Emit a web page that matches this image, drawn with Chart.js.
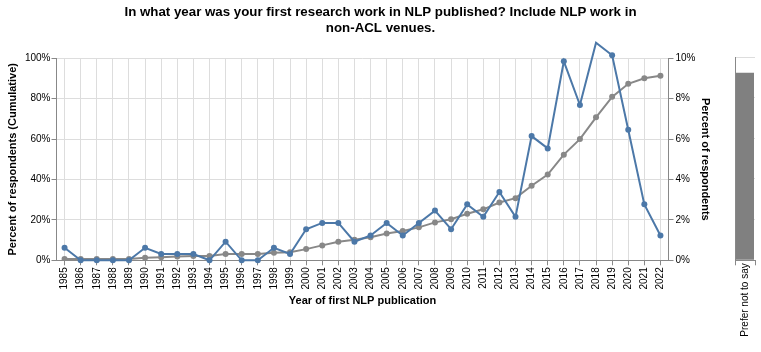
<!DOCTYPE html>
<html>
<head>
<meta charset="utf-8">
<script src="https://cdn.jsdelivr.net/npm/chart.js@4"></script>
<style>
  html, body { margin: 0; padding: 0; background: #fff; }
  #wrap { position: relative; width: 761px; height: 352px; }
  #main { position: absolute; left: 0; top: 0; }
  #side { position: absolute; left: 715px; top: 0; }
</style>
</head>
<body>
<div id="wrap">
  <canvas id="main" width="761" height="352"></canvas>
  <canvas id="side" width="46" height="352"></canvas>
</div>
<script>
// ===== dados =====
const anos = [
  '1985', '1986', '1987', '1988', '1989', '1990', '1991', '1992', '1993', '1994',
  '1995', '1996', '1997', '1998', '1999', '2000', '2001', '2002', '2003', '2004',
  '2005', '2006', '2007', '2008', '2009', '2010', '2011', '2012', '2013', '2014',
  '2015', '2016', '2017', '2018', '2019', '2020', '2021', '2022'
];

// % de respondentes por ano (eixo direito)
const percentual = [
  0.62, 0, 0, 0, 0, 0.62, 0.31, 0.31, 0.31, 0,
  0.92, 0, 0, 0.62, 0.31, 1.54, 1.85, 1.85, 0.92, 1.23,
  1.85, 1.23, 1.85, 2.46, 1.54, 2.77, 2.15, 3.38, 2.15, 6.15,
  5.54, 9.85, 7.69, 10.77, 10.15, 6.46, 2.77, 1.23
];

// % acumulado (eixo esquerdo)
const acumulado = [
  0.62, 0.62, 0.62, 0.62, 0.62, 1.23, 1.54, 1.85, 2.15, 2.15,
  3.08, 3.08, 3.08, 3.69, 4.0, 5.54, 7.38, 9.23, 10.15, 11.38,
  13.23, 14.46, 16.31, 18.77, 20.31, 23.08, 25.23, 28.62, 30.77, 36.92,
  42.46, 52.31, 60.0, 70.77, 80.92, 87.38, 90.15, 91.38
];

const semResposta = ['Prefer not to say'];
const semRespostaValor = [9.23];

const ticksEsquerda = [0, 20, 40, 60, 80, 100];
const ticksDireita = [0, 2, 4, 6, 8, 10];

// ===== estilos =====
const azul = '#4c78a8';
const cinza = '#888888';
const grade = '#dddddd';
const eixo = '#888888';
const fonte = "'Liberation Sans', Arial, sans-serif";

Chart.defaults.font.family = fonte;
Chart.defaults.color = '#000';

// ===== gráfico principal =====
new Chart(document.getElementById('main'), {
  type: 'line',
  data: {
    labels: anos,
    datasets: [
      {
        data: acumulado,
        yAxisID: 'y',
        borderColor: cinza,
        backgroundColor: cinza,
        borderWidth: 2,
        pointRadius: 3,
        pointBorderWidth: 0,
        tension: 0,
        order: 2
      },
      {
        data: percentual,
        yAxisID: 'y1',
        borderColor: azul,
        backgroundColor: azul,
        borderWidth: 2,
        pointRadius: 3,
        pointBorderWidth: 0,
        tension: 0,
        clip: false,
        order: 1
      }
    ]
  },
  options: {
    responsive: false,
    animation: false,
    layout: { padding: 0 },
    plugins: {
      legend: { display: false },
      tooltip: { enabled: false },
      title: {
        display: true,
        text: ['In what year was your first research work in NLP published? Include NLP work in', 'non-ACL venues.'],
        font: { size: 13.3, weight: 'bold' },
        color: '#000',
        lineHeight: 1.15,
        padding: { top: 4, bottom: 22.4 }
      }
    },
    scales: {
      x: {
        offset: true,
        afterFit: axis => { axis.height = 91.7; },
        grid: { color: grade, offset: false, tickLength: 5, tickColor: eixo },
        border: { color: eixo },
        ticks: { color: '#000', font: { size: 10 }, minRotation: 90, maxRotation: 90, autoSkip: false, padding: 2 },
        title: { display: true, text: 'Year of first NLP publication', font: { size: 11, weight: 'bold' }, padding: { top: 0, bottom: 44 } }
      },
      y: {
        position: 'left',
        min: 0,
        max: 100,
        afterFit: axis => { axis.width = 56.5; },
        afterBuildTicks: axis => { axis.ticks = ticksEsquerda.map(v => ({ value: v })); },
        grid: { color: grade, tickLength: 5, tickColor: eixo },
        border: { color: eixo },
        ticks: { color: '#000', font: { size: 10 }, padding: 1, callback: v => v + '%' },
        title: { display: true, text: 'Percent of respondents (Cumulative)', font: { size: 11, weight: 'bold' }, padding: { top: 6, bottom: 0 } }
      },
      y1: {
        position: 'right',
        min: 0,
        max: 10,
        afterFit: axis => { axis.width = 92.5; },
        afterBuildTicks: axis => { axis.ticks = ticksDireita.map(v => ({ value: v })); },
        grid: { drawOnChartArea: false, tickLength: 5, tickColor: eixo },
        border: { color: eixo },
        ticks: { color: '#000', font: { size: 10 }, padding: 2, callback: v => v + '%' },
        title: { display: true, text: 'Percent of respondents', font: { size: 11, weight: 'bold' }, padding: { top: 49, bottom: 0 } }
      }
    }
  }
});

// ===== painel "Prefer not to say" =====
new Chart(document.getElementById('side'), {
  type: 'bar',
  data: {
    labels: semResposta,
    datasets: [{
      data: semRespostaValor,
      backgroundColor: '#808080',
      barPercentage: 0.9,
      categoryPercentage: 1
    }]
  },
  options: {
    responsive: false,
    animation: false,
    layout: { padding: { top: 57, left: 0, right: 6, bottom: 0 } },
    plugins: { legend: { display: false }, tooltip: { enabled: false } },
    scales: {
      x: {
        afterFit: axis => { axis.height = 91.7; },
        grid: { display: true, color: 'rgba(0,0,0,0)', tickLength: 5, tickColor: eixo },
        border: { color: eixo },
        ticks: { color: '#000', font: { size: 10 }, minRotation: 90, maxRotation: 90, padding: -2 }
      },
      y: {
        min: 0,
        max: 10,
        afterFit: axis => { axis.width = 20; },
        afterBuildTicks: axis => { axis.ticks = ticksDireita.map(v => ({ value: v })); },
        grid: { color: grade, drawTicks: false },
        border: { color: eixo },
        ticks: { display: false }
      }
    }
  }
});
</script>
</body>
</html>
